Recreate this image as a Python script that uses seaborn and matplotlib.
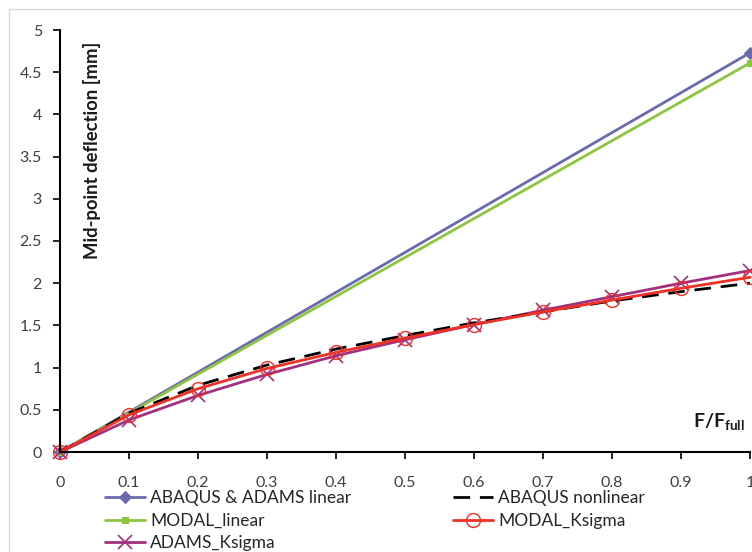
import numpy as np
import pandas as pd
import matplotlib
matplotlib.use("Agg")
import matplotlib.pyplot as plt
import seaborn as sns
from matplotlib.patches import Rectangle

sns.set_style("white")
plt.rcParams['font.family'] = ['Lato', 'DejaVu Sans']
plt.rcParams['mathtext.fontset'] = 'custom'
plt.rcParams['mathtext.bf'] = 'Lato:bold'
plt.rcParams['mathtext.rm'] = 'Lato'

x_lin = [0.0, 1.0]
abaqus_adams_linear = [0.0, 4.73]
modal_linear = [0.0, 4.61]

x_nl = [0.0, 0.1, 0.2, 0.3, 0.4, 0.5, 0.6, 0.7, 0.8, 0.9, 1.0]
abaqus_nonlinear = [0.0, 0.46, 0.79, 1.03, 1.22, 1.38, 1.53, 1.66, 1.79, 1.90, 2.00]
modal_ksigma = [0.0, 0.44, 0.75, 0.99, 1.18, 1.35, 1.51, 1.66, 1.80, 1.94, 2.07]
adams_ksigma = [0.0, 0.38, 0.67, 0.92, 1.14, 1.33, 1.51, 1.68, 1.84, 2.00, 2.15]

x_ticks = [0, 0.1, 0.2, 0.3, 0.4, 0.5, 0.6, 0.7, 0.8, 0.9, 1]
x_tick_labels = ["0", "0.1", "0.2", "0.3", "0.4", "0.5", "0.6", "0.7", "0.8", "0.9", "1"]
y_ticks = [0, 0.5, 1, 1.5, 2, 2.5, 3, 3.5, 4, 4.5, 5]
y_tick_labels = ["0", "0.5", "1", "1.5", "2", "2.5", "3", "3.5", "4", "4.5", "5"]

W, H = 752, 552
fig = plt.figure(figsize=(W / 100, H / 100), dpi=100)
ax = fig.add_axes([60 / W, (H - 452) / H, 690 / W, 422 / H])

# outer chart frame
fig.patches.append(Rectangle((9 / W, -0.1), 1.2, (H - 9) / H + 0.1, transform=fig.transFigure,
                             fill=False, edgecolor='#d9d9d9', linewidth=1.0))

c_lin = '#6a6aae'
c_mlin = '#8cc63e'
c_red = '#ee3124'
c_pur = '#a2307f'

sns.lineplot(x=x_lin, y=abaqus_adams_linear, ax=ax, color=c_lin, lw=2, marker='D',
             markersize=6, markeredgecolor=c_lin, label='ABAQUS & ADAMS linear', clip_on=False)
sns.lineplot(x=x_lin, y=modal_linear, ax=ax, color=c_mlin, lw=2, marker='s',
             markersize=5, markeredgecolor=c_mlin, label='MODAL_linear', clip_on=False)
sns.lineplot(x=x_nl, y=adams_ksigma, ax=ax, color=c_pur, lw=2, marker='x',
             markersize=10, markeredgewidth=1.2, markeredgecolor=c_pur, label='ADAMS_Ksigma', clip_on=False)
sns.lineplot(x=x_nl, y=abaqus_nonlinear, ax=ax, color='black', lw=2,
             label='ABAQUS nonlinear', clip_on=False)
ax.lines[-1].set_linestyle((0, (6, 3.5)))
sns.lineplot(x=x_nl, y=modal_ksigma, ax=ax, color=c_red, lw=2, marker='o',
             markersize=10, markerfacecolor='none', markeredgecolor=c_red, markeredgewidth=1.0,
             label='MODAL_Ksigma', clip_on=False)

ax.set_xlim(0, 1)
ax.set_ylim(0, 5)
ax.set_xticks(x_ticks)
ax.set_xticklabels(x_tick_labels)
ax.set_yticks(y_ticks)
ax.set_yticklabels(y_tick_labels)
ax.tick_params(axis='both', which='both', direction='out', length=5, width=1.2,
               color='black', labelsize=11.5, labelcolor='#404040', bottom=True, left=True)
ax.tick_params(axis='x', pad=12)
ax.tick_params(axis='y', pad=8)
for s in ['top', 'right']:
    ax.spines[s].set_visible(False)
for s in ['left', 'bottom']:
    ax.spines[s].set_color('black')
    ax.spines[s].set_linewidth(1.5)
ax.set_xlabel('')
ax.set_ylabel('')
ax.grid(False)

fig.text(92 / W, (H - 150) / H, 'Mid-point deflection [mm]', rotation=90,
         ha='center', va='center', fontsize=13.3, fontweight='bold', color='#1a1a1a')
fig.text(693 / W, (H - 428) / H, r'F/F$_{\mathbf{full}}$',
         ha='left', va='baseline', fontsize=14, fontweight='bold', color='#1a1a1a')

handles, labels = ax.get_legend_handles_labels()
ax.get_legend().remove()
common = dict(loc='upper left', bbox_transform=fig.transFigure, frameon=False, fontsize=12.5,
              handlelength=2.3, labelspacing=0.38, handletextpad=0.3, borderaxespad=0, borderpad=0)
leg1 = fig.legend(handles[:3], labels[:3], bbox_to_anchor=(105 / W, (H - 490) / H), **common)
leg2 = fig.legend(handles[3:], labels[3:], bbox_to_anchor=(453 / W, (H - 490) / H), **common)

fig.savefig('out.png', dpi=100)
